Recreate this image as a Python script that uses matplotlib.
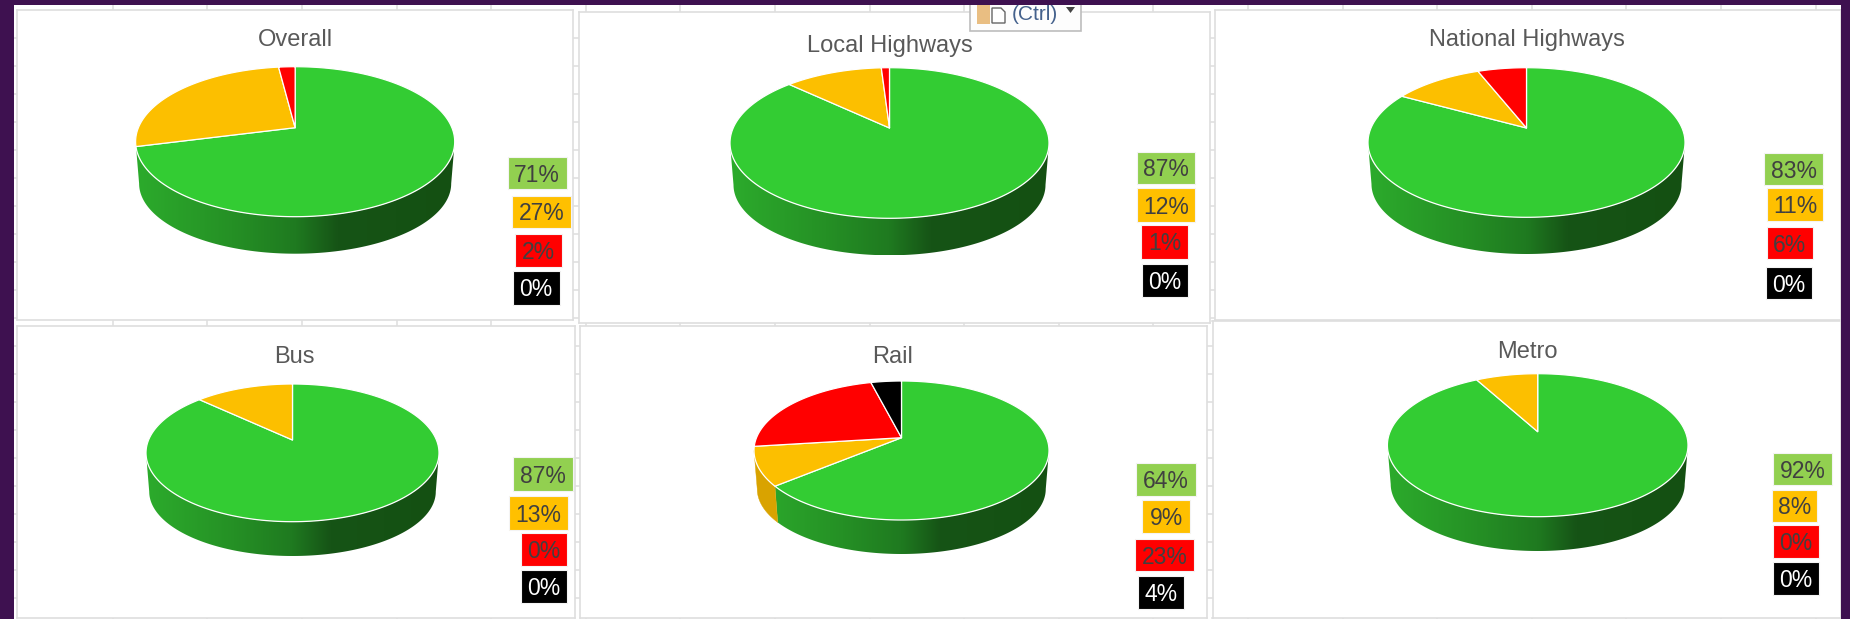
import numpy as np
import matplotlib
matplotlib.use("Agg")
import matplotlib.pyplot as plt
from matplotlib.colors import LinearSegmentedColormap
from matplotlib.patches import Polygon, Rectangle

# ---- data ----
TITLES = ["Overall", "Local Highways", "National Highways", "Bus", "Rail", "Metro"]
GREEN_PCT = [71, 87, 83, 87, 64, 92]
AMBER_PCT = [27, 12, 11, 13, 9, 8]
RED_PCT = [2, 1, 6, 0, 23, 0]
BLACK_PCT = [0, 0, 0, 0, 4, 0]

# ---- styles ----
plt.rcParams["font.family"] = ["Liberation Sans", "DejaVu Sans"]
W, H = 1850, 619
PURPLE = "#3E1150"
GRID = "#E0E0E0"
FACE = ["#33CC33", "#FCBF00", "#FF0000", "#000000"]
TAG = ["#92D050", "#FFC000", "#FF0000", "#000000"]
TAG_TEXT = ["#404040", "#404040", "#404040", "#FFFFFF"]
WALL_FLAT = [None, "#D9A300", "#C00000", "#000000"]
wall_cmap = LinearSegmentedColormap.from_list(
    "wall", [(0, "#2CAB2C"), (0.3, "#259025"), (0.5, "#1F7A20"),
             (0.63, "#165416"), (1, "#145012")])

# ---- layout, in reference pixels ----
PANELS = [(17, 10, 573, 320), (579, 12, 1210, 323), (1214.5, 10, 1841, 320),
          (17, 326, 574.5, 618), (579.5, 326.5, 1207, 618), (1212.5, 321, 1841, 618)]
TITLE_XY = [(295, 40), (890, 46), (1527, 40), (294.5, 357), (893, 357), (1527.5, 352)]
# left, right, top, bottom of the top face; apex y; bottom of the wall
PIES = [(135.6, 454.7, 66.7, 216.7, 127.7, 253.7),
        (730, 1049, 67.7, 218.3, 128, 255.3),
        (1368, 1685, 67.7, 217.3, 128, 254),
        (146, 439, 384, 521.7, 440, 556),
        (754, 1049, 381, 520, 437.7, 554),
        (1387.4, 1688, 373.7, 516.7, 431.7, 551)]
TAGS = [[(507.7, 566.6, 157, 189), (512, 571, 196, 228), (515, 562, 234, 267), (513, 559.5, 271, 305)],
        [(1136.5, 1195.4, 152, 184), (1136.5, 1195.4, 188, 222), (1141, 1188, 225, 259), (1142, 1188, 264, 297)],
        [(1764, 1823, 153, 185), (1767, 1823, 188, 221), (1767, 1813, 227, 259), (1765.5, 1811.5, 267, 299)],
        [(513, 572.5, 457, 491), (509, 568, 496, 530), (521, 566.6, 533, 566), (521, 566.6, 570, 603)],
        [(1136, 1196, 463, 496), (1142.4, 1189.7, 500, 533), (1135, 1194, 539, 571), (1138, 1184, 576, 609)],
        [(1773, 1832, 453, 485), (1771.7, 1817, 490, 522), (1773, 1818.6, 525, 558), (1773, 1818.6, 562, 595)]]
TITLE_PT = 17
TAG_PT = 16.5
WALL_SHRINK_X = 0.978
WALL_SHRINK_Y = 0.935
MIN_WALL_SPAN = 0.12

fig = plt.figure(figsize=(W / 100, H / 100), dpi=100, facecolor="white")


def pixel_axes(x0, y0, x1, y1, z):
    ax = fig.add_axes([x0 / W, 1 - y1 / H, (x1 - x0) / W, (y1 - y0) / H], zorder=z)
    ax.set_xlim(x0, x1)
    ax.set_ylim(y1, y0)
    ax.set_xticks([])
    ax.set_yticks([])
    return ax


# worksheet grid behind the charts
bg = pixel_axes(0, 0, W, H, 0)
bg.axis("off")
for x in np.arange(112.7, W, 94.6):
    bg.axvline(x, color=GRID, lw=1.2)
for y in np.arange(38.3, H, 28.0):
    bg.axhline(y, color=GRID, lw=1.2)


def face_angle(theta, a):
    """Clockwise-from-top angle on the tilted rim of a slice boundary."""
    u, v = np.sin(theta), np.cos(theta)
    d = 1 + a * v
    return np.arctan2(u * np.sqrt(1 - a * a) / d, (v + a) / d) % (2 * np.pi)


for i, title in enumerate(TITLES):
    x0, y0, x1, y1 = PANELS[i]
    ax = pixel_axes(x0, y0, x1, y1, 1 + i)
    for s in ax.spines.values():
        s.set_color("#DEDEDE")
        s.set_linewidth(1.2)

    left, right, top, bottom, apex_y, wall_bottom = PIES[i]
    cx, rx = (left + right) / 2, (right - left) / 2
    cy, ry = (top + bottom) / 2, (bottom - top) / 2
    a = (cy - apex_y) / ry
    rx2, ry2 = rx * WALL_SHRINK_X, ry * WALL_SHRINK_Y
    cy2 = wall_bottom - ry2

    values = np.array([GREEN_PCT[i], AMBER_PCT[i], RED_PCT[i], BLACK_PCT[i]], float)
    edges = np.concatenate([[0], np.cumsum(values)]) / values.sum() * 2 * np.pi

    # side wall, front half of the rim only; a sliver at the very edge does not show
    spans = []
    for k in range(4):
        p1 = face_angle(edges[k], a) if edges[k] > 0 else 0.0
        p2 = face_angle(edges[k + 1], a) if edges[k + 1] < 2 * np.pi - 1e-9 else 2 * np.pi
        spans.append((max(p1, np.pi / 2), min(p2, 1.5 * np.pi)))
    if 0 < spans[1][1] - spans[1][0] < MIN_WALL_SPAN:
        spans[0] = (spans[0][0], 1.5 * np.pi)
        spans[1] = (0.0, 0.0)
    for k in range(4):
        p1, p2 = spans[k]
        if values[k] == 0 or p2 <= p1:
            continue
        phi = np.linspace(p1, p2, 200)
        wall = np.vstack([
            np.column_stack([cx + rx * np.sin(phi), cy - ry * np.cos(phi)]),
            np.column_stack([cx + rx2 * np.sin(phi[::-1]), cy2 - ry2 * np.cos(phi[::-1])]),
        ])
        if WALL_FLAT[k] is None:
            patch = Polygon(wall, closed=True, fc="none", ec="none", transform=ax.transData)
            ax.add_patch(patch)
            im = ax.imshow(np.linspace(0, 1, 256)[None, :], cmap=wall_cmap, vmin=0, vmax=1,
                           extent=(left, right, wall_bottom, top), aspect="auto",
                           interpolation="bilinear", zorder=1)
            im.set_clip_path(patch)
        else:
            ax.add_patch(Polygon(wall, closed=True, fc=WALL_FLAT[k], ec=WALL_FLAT[k], lw=0.3, zorder=1.5))

    # top face: slices meet at the off-centre apex
    for k in range(4):
        if values[k] == 0:
            continue
        t = np.linspace(edges[k], edges[k + 1], 240)
        u, v = np.sin(t), np.cos(t)
        d = 1 + a * v
        px = cx + rx * u * np.sqrt(1 - a * a) / d
        py = cy - ry * (v + a) / d
        verts = np.vstack([[[cx, apex_y]], np.column_stack([px, py])])
        ax.add_patch(Polygon(verts, closed=True, fc=FACE[k], ec="white", lw=0.9,
                             joinstyle="round", zorder=2))

    ax.set_xlim(x0, x1)
    ax.set_ylim(y1, y0)

    ax.text(*TITLE_XY[i], title, ha="center", va="center", fontsize=TITLE_PT, color="#595959", zorder=3)

    for k in range(4):
        l, r, t_, b = TAGS[i][k]
        ax.add_patch(Rectangle((l, t_), r - l, b - t_, fc=TAG[k], ec="#F4F4F4", lw=0.8, zorder=3))
        ax.text((l + r) / 2, (t_ + b) / 2 + 2, f"{int(values[k])}%", ha="center", va="center",
                fontsize=TAG_PT, color=TAG_TEXT[k], zorder=4)

# paste-options popup and the purple window frame on top
top = pixel_axes(0, 0, W, H, 20)
top.axis("off")
top.add_patch(Rectangle((970, 0), 111, 30.7, fc="#FDFDFD", ec="#BDBDBD", lw=1.2, zorder=1))
top.add_patch(Rectangle((977, 0), 13, 24, fc="#E9BE82", ec="none", zorder=2))
top.add_patch(Polygon([(992, 8), (1001, 8), (1005, 12), (1005, 23), (992, 23)], closed=True,
                      fc="white", ec="#666666", lw=1.0, zorder=2))
top.text(1035, 14, "(Ctrl)", ha="center", va="center", fontsize=15, color="#44618C", zorder=2)
top.add_patch(Polygon([(1066, 7), (1075, 7), (1070.5, 13)], closed=True, fc="#444444", ec="none", zorder=2))
top.add_patch(Rectangle((0, 0), W, 5, fc=PURPLE, ec="none", zorder=5))
top.add_patch(Rectangle((0, 0), 13.5, H, fc=PURPLE, ec="none", zorder=5))
top.add_patch(Rectangle((1841, 0), W - 1841, H, fc=PURPLE, ec="none", zorder=5))

fig.savefig("out.png", dpi=100)
